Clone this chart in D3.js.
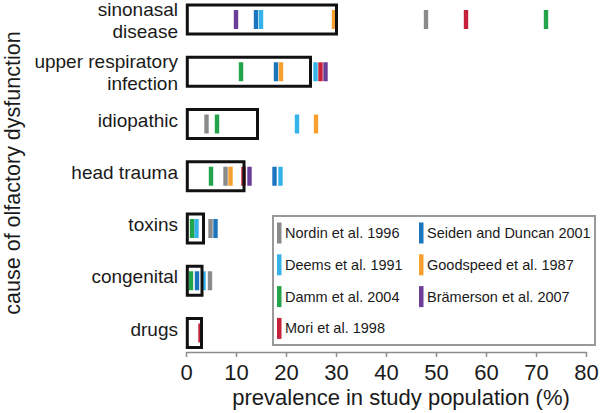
<!DOCTYPE html>
<html>
<head>
<meta charset="utf-8">
<script src="https://cdnjs.cloudflare.com/ajax/libs/d3/7.8.5/d3.min.js"></script>
<style>
    body { margin: 0; background: #fff; }
    text { font-family: "Liberation Sans", Arial, sans-serif; fill: #1a1a1a; }
</style>
</head>
<body>
<div id="chart"></div>
<script>
(function () {
    // categories (top to bottom), box ends and the studies' values (null = not reported)
    var categories = ["sinonasal disease", "upper respiratory infection", "idiopathic", "head trauma", "toxins", "congenital", "drugs"];
    var categoryLines = [["sinonasal", "disease"], ["upper respiratory", "infection"], ["idiopathic"], ["head trauma"], ["toxins"], ["congenital"], ["drugs"]];
    var boxValues = [30.1, 24.9, 14.3, 11.6, 3.5, 3.2, 3.1];

    var studies = ["Nordin et al. 1996", "Seiden and Duncan 2001", "Deems et al. 1991", "Goodspeed et al. 1987", "Damm et al. 2004", "Brämerson et al. 2007", "Mori et al. 1998"];
    var studyColors = ["#8a8a8a", "#1b75bc", "#35b3e8", "#f7a030", "#22a54a", "#6b3d98", "#c6213a"];

    var nordin = [48, null, 4.1, 7.9, 4.9, 4.8, null];
    var seiden = [14, 18, null, 17.7, 5.9, 2.2, null];
    var deems = [15, 25.9, 22.2, 18.9, 2.1, 3.5, null];
    var goodspeed = [29.6, 19, 26, 8.9, null, null, null];
    var damm = [72, 11, 6.2, 5, 1.2, 1, null];
    var bramerson = [10, 27.9, null, 12.7, null, null, null];
    var mori = [56, 26.9, null, 11.5, null, null, 2.9];
    var seriesValues = [nordin, seiden, deems, goodspeed, damm, bramerson, mori];

    var xTicks = [0, 10, 20, 30, 40, 50, 60, 70, 80];

    // legend order as in the figure (two columns)
    var legendOrder = [0, 2, 4, 6, 1, 3, 5];

    var width = 600;
    var height = 413;

    var svg = d3.select("#chart").append("svg")
        .attr("width", width)
        .attr("height", height);

    var x = d3.scaleLinear().domain([0, 80]).range([186, 586]);
    var y = d3.scalePoint().domain(categories).range([19.5, 333]);

    // marks
    var marks = [];
    seriesValues.forEach(function (values, s) {
        values.forEach(function (v, c) {
            if (v != null) {
                marks.push({study: s, category: categories[c], value: v});
            }
        });
    });

    svg.append("g").selectAll("rect")
        .data(marks)
        .enter().append("rect")
        .attr("x", function (d) { return x(d.value) - 2.2; })
        .attr("y", function (d) { return y(d.category) - 9.5; })
        .attr("width", 4.4)
        .attr("height", 19)
        .attr("fill", function (d) { return studyColors[d.study]; });

    // boxes drawn on top of the marks
    svg.append("g").selectAll("rect")
        .data(categories)
        .enter().append("rect")
        .attr("x", x(0) + 1.3)
        .attr("y", function (d) { return y(d) - 14.5; })
        .attr("width", function (d, i) { return x(boxValues[i]) - x(0) - 1.3; })
        .attr("height", 29)
        .attr("fill", "none")
        .attr("stroke", "#111")
        .attr("stroke-width", 3);

    // category labels
    var labels = svg.append("g").selectAll("text")
        .data(categories)
        .enter().append("text")
        .attr("text-anchor", "end")
        .attr("font-size", 19)
        .attr("transform", function (d) { return "translate(178," + y(d) + ")"; });

    labels.selectAll("tspan")
        .data(function (d, i) { return categoryLines[i]; })
        .enter().append("tspan")
        .attr("x", 0)
        .attr("y", function (d, j, nodes) {
            if (nodes.length == 1) return 2.5;
            return j == 0 ? -3.8 : 18.4;
        })
        .text(function (d) { return d; });

    // x axis
    var xAxis = d3.axisBottom(x).tickValues(xTicks).tickSize(5).tickPadding(7).tickSizeOuter(0);
    var axisG = svg.append("g")
        .attr("transform", "translate(0,352)")
        .call(xAxis);
    axisG.select(".domain").attr("stroke", "#8c8c8c").attr("stroke-width", 1.5);
    axisG.selectAll(".tick line").attr("stroke", "#8c8c8c").attr("stroke-width", 1.5);
    axisG.selectAll(".tick text")
        .attr("font-size", 22)
        .attr("font-family", "Liberation Sans, Arial, sans-serif")
        .attr("fill", "#1a1a1a");

    svg.append("text")
        .attr("x", 401)
        .attr("y", 405)
        .attr("text-anchor", "middle")
        .attr("font-size", 22)
        .text("prevalence in study population (%)");

    svg.append("text")
        .attr("transform", "translate(19.5,173) rotate(-90)")
        .attr("text-anchor", "middle")
        .attr("font-size", 21.5)
        .text("cause of olfactory dysfunction");

    // legend
    var legend = svg.append("g");
    legend.append("rect")
        .attr("x", 273)
        .attr("y", 216)
        .attr("width", 322)
        .attr("height", 129)
        .attr("fill", "#fff")
        .attr("stroke", "#999")
        .attr("stroke-width", 2);

    var items = legend.selectAll("g.item")
        .data(legendOrder)
        .enter().append("g")
        .attr("class", "item")
        .attr("transform", function (d, i) {
            var col = i < 4 ? 0 : 1;
            var row = i < 4 ? i : i - 4;
            return "translate(" + (277 + col * 142) + "," + (233 + row * 31.8) + ")";
        });

    items.append("rect")
        .attr("x", 0)
        .attr("y", -10.5)
        .attr("width", 4.5)
        .attr("height", 21)
        .attr("fill", function (d) { return studyColors[d]; });

    items.append("text")
        .attr("x", 8)
        .attr("dy", "0.35em")
        .attr("font-size", 14.5)
        .text(function (d) { return studies[d]; });
})();
</script>
</body>
</html>
